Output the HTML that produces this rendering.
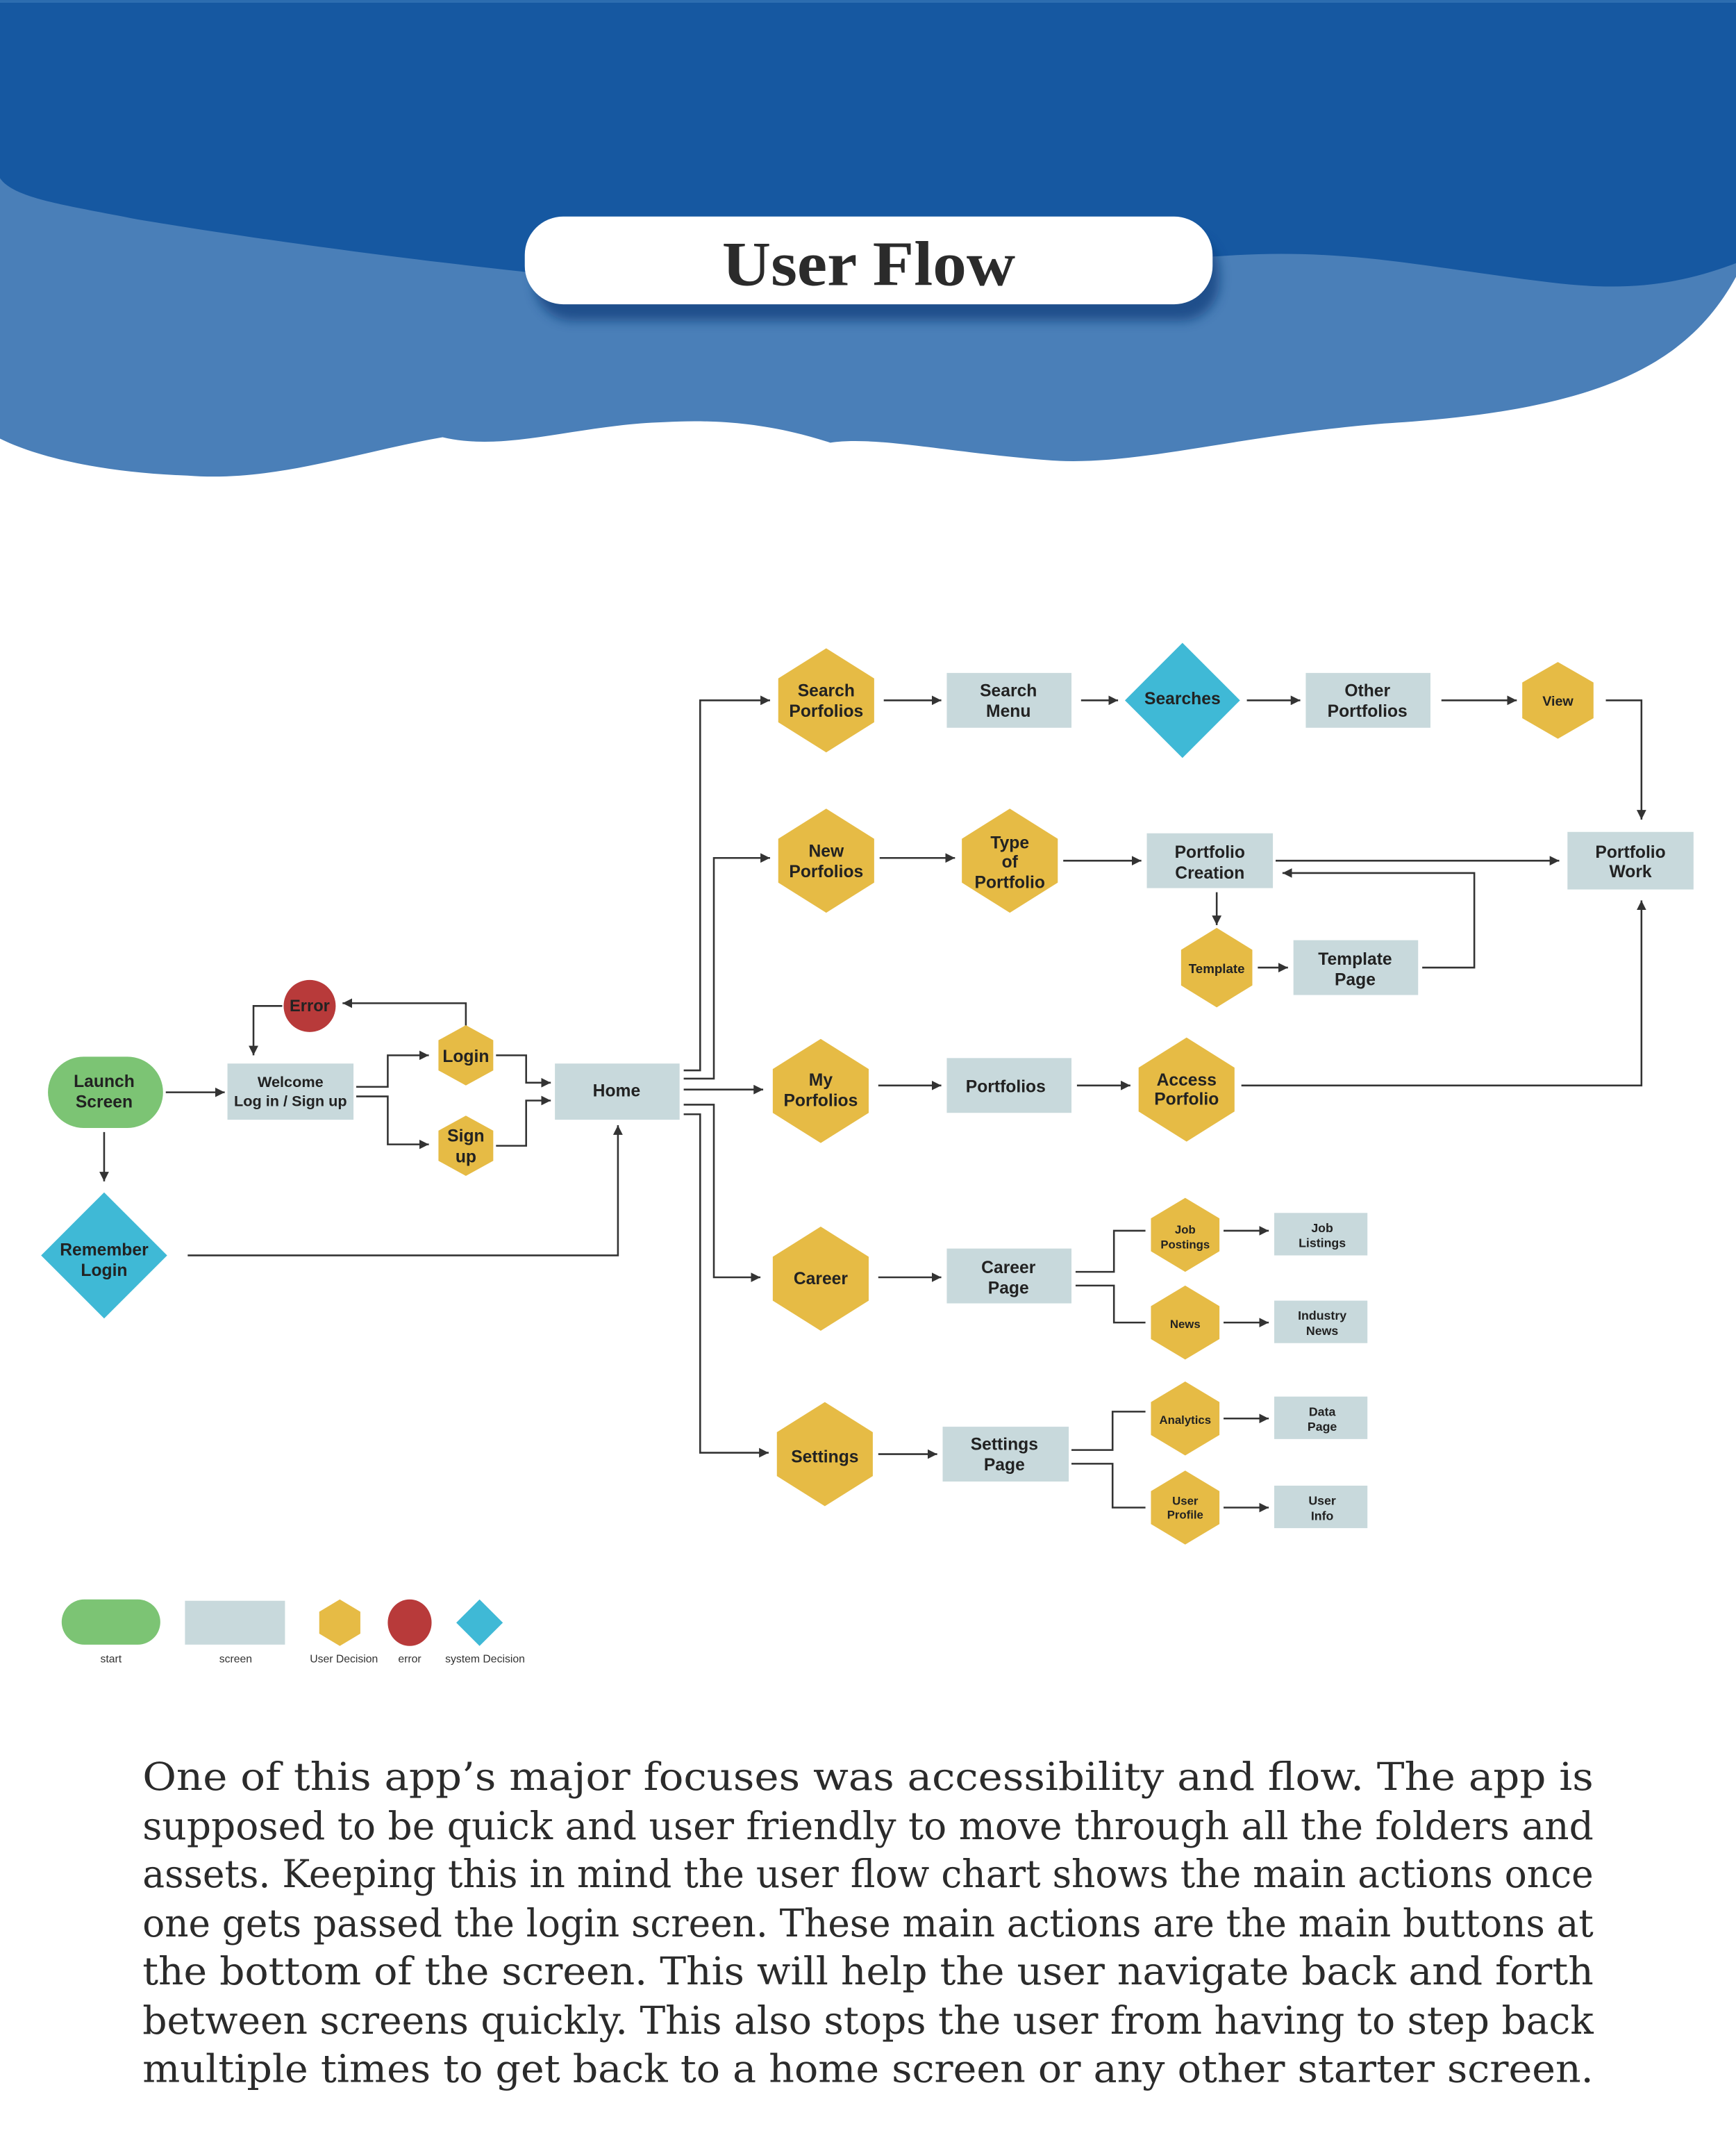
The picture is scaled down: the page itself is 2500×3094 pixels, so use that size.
<!DOCTYPE html>
<html><head><meta charset="utf-8"><style>
html,body{margin:0;padding:0;background:#fff}
svg{display:block}
.t{font-family:"Liberation Sans",sans-serif;font-weight:bold;fill:#222;text-anchor:middle}
.p{font-family:"DejaVu Serif",serif;font-size:28px;fill:#2b2b2b}
.l{font-family:"Liberation Sans",sans-serif;font-size:8px;fill:#333;text-anchor:middle}
.c{fill:none;stroke:#333;stroke-width:1.3}
</style></head><body>
<svg width="2500" height="3094" viewBox="0 0 1267 1568" xmlns="http://www.w3.org/2000/svg">
<defs>
<marker id="a" viewBox="0 0 10 10" refX="10" refY="5" markerWidth="7" markerHeight="7" orient="auto" markerUnits="userSpaceOnUse"><path d="M0,0L10,5L0,10z" fill="#333"/></marker>
<filter id="sh" x="-10%" y="-30%" width="120%" height="180%"><feGaussianBlur stdDeviation="4"/></filter>
</defs>
<path d="M0,0H1267V202C1230,270 1160,300 1010,309C900,318 830,340 768,336C690,330 640,318 606,323C560,308 520,306 485,308C420,310 370,330 323,319C260,330 200,352 137,347C80,345 30,335 0,320Z" fill="#4a7fb8"/>
<path d="M0,0H1267V192C1220,210 1180,212 1131,206C1040,195 980,180 889,187C700,195 500,215 380,198C260,185 160,170 100,160C50,150 10,145 0,130Z" fill="#1658a1"/>
<rect x="0" y="0" width="1267" height="2" fill="#2d6db0"/>
<rect x="390" y="170" width="500" height="64" rx="28" fill="#0e3a78" opacity="0.7" filter="url(#sh)"/>
<rect x="383" y="158" width="502" height="64" rx="28" fill="#fff"/>
<text x="634" y="208" text-anchor="middle" font-family="Liberation Serif,serif" font-weight="bold" font-size="46" fill="#2b2b2b" textLength="214" lengthAdjust="spacingAndGlyphs">User Flow</text>

<g class="c" marker-end="url(#a)">
<path d="M121,797H164"/>
<path d="M76,826V862"/>
<path d="M137,916H451V821"/>
<path d="M260,793H283V770H313"/>
<path d="M260,800H283V835H313"/>
<path d="M340,750V732H250"/>
<path d="M206,734H185V770"/>
<path d="M362,770H384V790H402"/>
<path d="M362,836H384V803H402"/>
<path d="M499,781H511V511H562"/>
<path d="M499,787H521V626H562"/>
<path d="M499,795H557"/>
<path d="M499,806H521V932H555"/>
<path d="M499,813H511V1060H561"/>
<path d="M645,511H687"/>
<path d="M789,511H816"/>
<path d="M910,511H949"/>
<path d="M1052,511H1107"/>
<path d="M1172,511H1198V598"/>
<path d="M642,626H697"/>
<path d="M776,628H833"/>
<path d="M931,628H1138"/>
<path d="M888,651V675"/>
<path d="M918,706H940"/>
<path d="M1038,706H1076V637H936"/>
<path d="M641,792H687"/>
<path d="M786,792H825"/>
<path d="M906,792H1198V657"/>
<path d="M641,932H687"/>
<path d="M785,928H813V898H836" marker-end="none"/>
<path d="M785,938H813V965H836" marker-end="none"/>
<path d="M893,898H926"/>
<path d="M893,965H926"/>
<path d="M641,1061H684"/>
<path d="M782,1058H812V1030H836" marker-end="none"/>
<path d="M782,1068H812V1100H836" marker-end="none"/>
<path d="M893,1035H926"/>
<path d="M893,1100H926"/>
</g>

<g fill="#c8d9dc">
<rect x="166" y="776" width="92" height="41"/>
<rect x="405" y="776" width="91" height="41"/>
<rect x="691" y="491" width="91" height="40"/>
<rect x="953" y="491" width="91" height="40"/>
<rect x="837" y="608" width="92" height="40"/>
<rect x="1144" y="607" width="92" height="42"/>
<rect x="944" y="686" width="91" height="40"/>
<rect x="691" y="772" width="91" height="40"/>
<rect x="691" y="911" width="91" height="40"/>
<rect x="930" y="885" width="68" height="31"/>
<rect x="930" y="949" width="68" height="31"/>
<rect x="688" y="1041" width="92" height="40"/>
<rect x="930" y="1019" width="68" height="31"/>
<rect x="930" y="1084" width="68" height="31"/>
</g>
<rect x="35" y="771" width="84" height="52" rx="26" fill="#7cc474"/>
<circle cx="226" cy="734" r="19" fill="#b83a3a"/>
<g fill="#3fb9d6">
<path d="M76,870L122,916L76,962L30,916Z"/>
<path d="M863,469L905,511L863,553L821,511Z"/>
</g>
<g fill="#e6bb45">
<path d="M340,748L360,759V781L340,792L320,781V759Z"/>
<path d="M340,814L360,825V847L340,858L320,847V825Z"/>
<path d="M603,473L638,495V527L603,549L568,527V495Z"/>
<path d="M1137,483L1163,498V524L1137,539L1111,524V498Z"/>
<path d="M603,590L638,612V644L603,666L568,644V612Z"/>
<path d="M737,590L772,612V644L737,666L702,644V612Z"/>
<path d="M888,677L914,693V719L888,735L862,719V693Z"/>
<path d="M599,758L634,780V812L599,834L564,812V780Z"/>
<path d="M866,757L901,779V811L866,833L831,811V779Z"/>
<path d="M599,895L634,917V949L599,971L564,949V917Z"/>
<path d="M865,874L890,889V913L865,928L840,913V889Z"/>
<path d="M865,938L890,953V977L865,992L840,977V953Z"/>
<path d="M602,1023L637,1045V1077L602,1099L567,1077V1045Z"/>
<path d="M865,1008L890,1023V1047L865,1062L840,1047V1023Z"/>
<path d="M865,1073L890,1088V1112L865,1127L840,1112V1088Z"/>
</g>

<g class="t" font-size="12.5">
<text x="76" y="793">Launch</text><text x="76" y="808">Screen</text>
<text x="76" y="916">Remember</text><text x="76" y="931">Login</text>
<text x="226" y="738" font-size="12">Error</text>
<text x="212" y="793" font-size="11">Welcome</text><text x="212" y="807" font-size="11">Log in / Sign up</text>
<text x="340" y="775">Login</text>
<text x="340" y="833">Sign</text><text x="340" y="848">up</text>
<text x="450" y="800">Home</text>
<text x="603" y="508">Search</text><text x="603" y="523">Porfolios</text>
<text x="736" y="508">Search</text><text x="736" y="523">Menu</text>
<text x="863" y="514">Searches</text>
<text x="998" y="508">Other</text><text x="998" y="523">Portfolios</text>
<text x="1137" y="515" font-size="10">View</text>
<text x="603" y="625">New</text><text x="603" y="640">Porfolios</text>
<text x="737" y="619">Type</text><text x="737" y="633">of</text><text x="737" y="648">Portfolio</text>
<text x="883" y="626">Portfolio</text><text x="883" y="641">Creation</text>
<text x="1190" y="626">Portfolio</text><text x="1190" y="640">Work</text>
<text x="888" y="710" font-size="9.5">Template</text>
<text x="989" y="704">Template</text><text x="989" y="719">Page</text>
<text x="599" y="792">My</text><text x="599" y="807">Porfolios</text>
<text x="734" y="797">Portfolios</text>
<text x="866" y="792">Access</text><text x="866" y="806">Porfolio</text>
<text x="599" y="937">Career</text>
<text x="736" y="929">Career</text><text x="736" y="944">Page</text>
<text x="865" y="900" font-size="8.5">Job</text><text x="865" y="911" font-size="8.5">Postings</text>
<text x="965" y="899" font-size="9">Job</text><text x="965" y="910" font-size="9">Listings</text>
<text x="865" y="969" font-size="8.5">News</text>
<text x="965" y="963" font-size="9">Industry</text><text x="965" y="974" font-size="9">News</text>
<text x="602" y="1067">Settings</text>
<text x="733" y="1058">Settings</text><text x="733" y="1073">Page</text>
<text x="865" y="1039" font-size="8.5">Analytics</text>
<text x="965" y="1033" font-size="9">Data</text><text x="965" y="1044" font-size="9">Page</text>
<text x="865" y="1098" font-size="8.5">User</text><text x="865" y="1108" font-size="8.5">Profile</text>
<text x="965" y="1098" font-size="9">User</text><text x="965" y="1109" font-size="9">Info</text>
</g>

<rect x="45" y="1167" width="72" height="33" rx="16.5" fill="#7cc474"/>
<rect x="135" y="1168" width="73" height="32" fill="#c8d9dc"/>
<path d="M248,1167L263,1176V1192L248,1201L233,1192V1176Z" fill="#e6bb45"/>
<ellipse cx="299" cy="1184" rx="16" ry="17" fill="#b83a3a"/>
<path d="M350,1167L367,1184L350,1201L333,1184Z" fill="#3fb9d6"/>
<text class="l" x="81" y="1213">start</text>
<text class="l" x="172" y="1213">screen</text>
<text class="l" x="251" y="1213">User Decision</text>
<text class="l" x="299" y="1213">error</text>
<text class="l" x="354" y="1213">system Decision</text>

<g class="p">
<text x="104" y="1306" textLength="1059" lengthAdjust="spacingAndGlyphs">One of this app’s major focuses was accessibility and flow. The app is</text>
<text x="104" y="1342" textLength="1059" lengthAdjust="spacingAndGlyphs">supposed to be quick and user friendly to move through all the folders and</text>
<text x="104" y="1377" textLength="1059" lengthAdjust="spacingAndGlyphs">assets. Keeping this in mind the user flow chart shows the main actions once</text>
<text x="104" y="1413" textLength="1059" lengthAdjust="spacingAndGlyphs">one gets passed the login screen. These main actions are the main buttons at</text>
<text x="104" y="1448" textLength="1059" lengthAdjust="spacingAndGlyphs">the bottom of the screen. This will help the user navigate back and forth</text>
<text x="104" y="1484" textLength="1059" lengthAdjust="spacingAndGlyphs">between screens quickly. This also stops the user from having to step back</text>
<text x="104" y="1519" textLength="1059" lengthAdjust="spacingAndGlyphs">multiple times to get back to a home screen or any other starter screen.</text>
</g>
</svg>
</body></html>
